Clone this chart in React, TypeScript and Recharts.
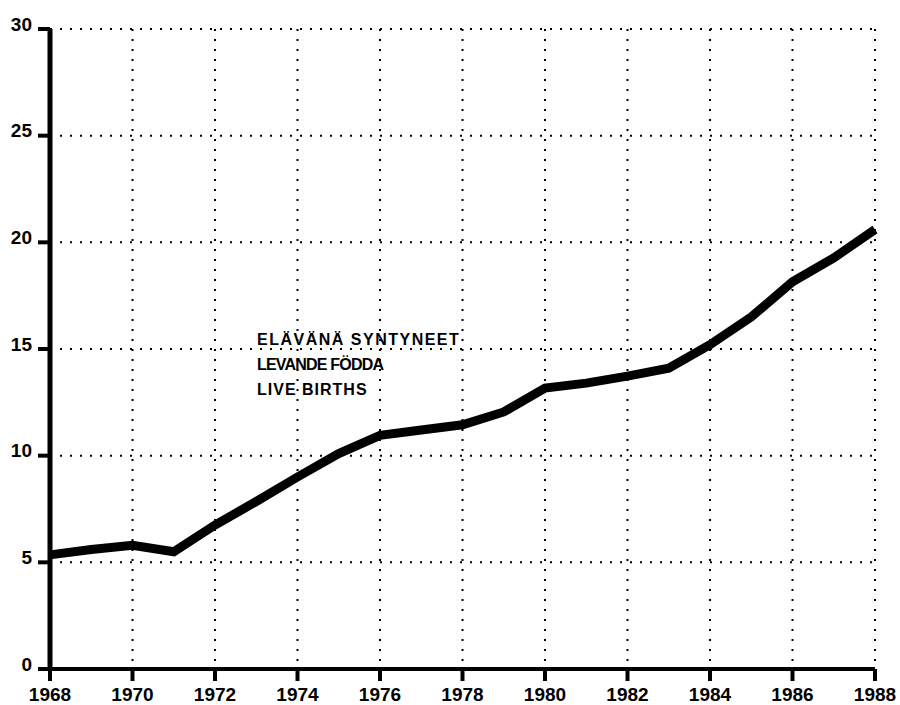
import React from "react";
import { LineChart, Line, XAxis, YAxis, CartesianGrid } from "recharts";

const years = [1968, 1969, 1970, 1971, 1972, 1973, 1974, 1975, 1976, 1977, 1978, 1979, 1980, 1981, 1982, 1983, 1984, 1985, 1986, 1987, 1988];
const liveBirths = [5.35, 5.6, 5.8, 5.5, 6.75, 7.85, 9.0, 10.1, 10.95, 11.2, 11.45, 12.05, 13.17, 13.4, 13.73, 14.1, 15.2, 16.5, 18.15, 19.27, 20.6];
const xTicks = [1968, 1970, 1972, 1974, 1976, 1978, 1980, 1982, 1984, 1986, 1988];
const yTicks = [0, 5, 10, 15, 20, 25, 30];
const labelLines = ["ELÄVÄNÄ SYNTYNEET", "LEVANDE FÖDDA", "LIVE BIRTHS"];
const labelSpacing = [1.5, -0.8, 1.0];

const data = years.map((y, i) => ({ year: y, value: liveBirths[i] }));

const tickFont = {
  fill: "#000",
  fontSize: 19,
  fontWeight: 700,
  fontFamily: "'Liberation Sans', Arial, sans-serif",
};

export default function App() {
  return (
    <div style={{ position: "absolute", left: 0, top: 0, width: 900, height: 705, background: "#fff" }}>
      <LineChart width={900} height={705} data={data} margin={{ top: 29, right: 25, bottom: 0, left: 0 }}>
        <CartesianGrid stroke="#000" strokeWidth={2} strokeDasharray="2 8" />
        <XAxis
          dataKey="year"
          type="number"
          domain={[1968, 1988]}
          ticks={xTicks}
          height={36}
          axisLine={{ stroke: "#000", strokeWidth: 4 }}
          tickLine={{ stroke: "#000", strokeWidth: 4 }}
          tickSize={12}
          tickMargin={7}
          tick={tickFont}
        />
        <YAxis
          type="number"
          domain={[0, 30]}
          ticks={yTicks}
          width={50}
          axisLine={{ stroke: "#000", strokeWidth: 5 }}
          tickLine={{ stroke: "#000", strokeWidth: 4 }}
          tickSize={12}
          tickMargin={6}
          tick={{ ...tickFont, dy: -5 }}
        />
        <Line
          type="linear"
          dataKey="value"
          stroke="#000"
          strokeWidth={9}
          dot={false}
          isAnimationActive={false}
        />
      </LineChart>
      <div
        style={{
          position: "absolute",
          left: 257,
          top: 327,
          fontFamily: "'Liberation Sans', Arial, sans-serif",
          fontWeight: 700,
          fontSize: 16,
          lineHeight: "25px",
          color: "#000",
          whiteSpace: "nowrap",
        }}
      >
        {labelLines.map((t, i) => (
          <div key={t} style={{ letterSpacing: labelSpacing[i] }}>{t}</div>
        ))}
      </div>
    </div>
  );
}
